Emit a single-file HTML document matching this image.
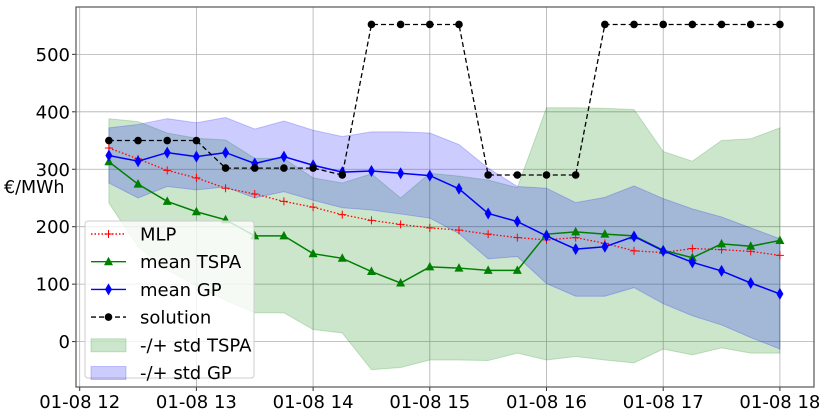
<!DOCTYPE html>
<html><head><meta charset="utf-8"><style>
body{margin:0;background:#fff;}
svg{display:block;font-family:"DejaVu Sans","Liberation Sans",sans-serif;}
</style></head><body>
<svg id="chart" width="830" height="415">
<g id="grid"></g>
<g id="bands"></g>
<g id="lines"></g>
<g id="axes"></g>
<text x="4" y="193" font-size="17.5">€/MWh</text>
<g id="legend"></g>
</svg>
<script>
const xTickLabels = ["01-08 12","01-08 13","01-08 14","01-08 15","01-08 16","01-08 17","01-08 18"];
const yTicks = [0,100,200,300,400,500];
const solution = [350,350,350,350,302,302,302,302,290,552,552,552,552,290,290,290,290,552,552,552,552,552,552,552];
const meanGP = [324,314,329,322,329,310,322,307,295,297,293,289,266,223,209,184,161,165,183,158,138,123,102,83];
const meanTSPA = [313,274,244,226,212,184,184,153,145,122,102,130,128,124,124,187,191,187,184,159,146,170,166,176];
const mlp = [337,318,298,285,267,257,244,234,221,211,204,198,194,187,181,177,181,171,158,155,162,160,157,150];
const tspaLower = [241,165,125,97,72,50,50,21,15,-49,-45,-32,-32,-33,-20,-32,-26,-32,-37,-13,-23,-11,-20,-20];
const tspaUpper = [388,383,363,354,351,319,319,285,276,292,250,293,288,281,268,407,407,406,404,331,314,350,353,372];
const gpUpper = [372,378,388,381,390,370,384,368,357,365,365,363,343,302,270,267,242,251,271,249,231,217,198,179];
const gpLower = [276,250,270,264,269,250,261,246,233,229,222,215,188,144,148,101,79,79,94,66,45,29,7,-13];

const L=76,R=814,T=7,B=387;
const xHour=h=>79.7+(h-12)*116.7;
const xIdx=i=>xHour(12.25+i*0.25);
const y=v=>341.6-v*0.5745;
const NS="http://www.w3.org/2000/svg";
function mk(p,tag,a){const e=document.createElementNS(NS,tag);for(const k in a)e.setAttribute(k,a[k]);p.appendChild(e);return e;}
const grid=document.getElementById('grid'),bands=document.getElementById('bands'),lines=document.getElementById('lines'),axes=document.getElementById('axes'),leg=document.getElementById('legend');

xTickLabels.forEach((t,k)=>{const x=xHour(12+k);
 const g=mk(grid,'line',{x1:x,x2:x,y1:T,y2:B,stroke:'#b0b0b0','stroke-width':0.8});
 
 
 mk(axes,'line',{x1:x,x2:x,y1:B,y2:B+4,stroke:'#333'});
 const tx=mk(axes,'text',{x:x,y:B+21,'font-size':18,'text-anchor':'middle',fill:'#000'});tx.textContent=t;
 
 
});
yTicks.forEach(v=>{const yy=y(v);
 const g=mk(grid,'line',{x1:L,x2:R,y1:yy,y2:yy,stroke:'#b0b0b0','stroke-width':0.8});
 
 
 mk(axes,'line',{x1:L-4,x2:L,y1:yy,y2:yy,stroke:'#333'});
 const tx=mk(axes,'text',{x:L-6,y:yy+6.5,'font-size':18,'text-anchor':'end'});tx.textContent=v;
 
 
});
mk(axes,'rect',{x:L,y:T,width:R-L,height:B-T,fill:'none',stroke:'#555','stroke-width':1.2});

function band(up,lo,fill,name){
 let d='M'+up.map((v,i)=>xIdx(i)+','+y(v)).join('L');
 for(let i=lo.length-1;i>=0;i--)d+='L'+xIdx(i)+','+y(lo[i]);
 const p=mk(bands,'path',{d:d+'Z',fill:fill,'fill-opacity':0.2,stroke:fill,'stroke-opacity':0.2});
 
 
}
band(tspaUpper,tspaLower,'#008000','tspa-std-band');
band(gpUpper,gpLower,'#0000ff','gp-std-band');

function marker(g,kind,x,yy,c){
 if(kind==='+'){mk(g,'path',{d:`M${x-4},${yy}h8M${x},${yy-4}v8`,stroke:c,'stroke-width':1});}
 else if(kind==='^'){mk(g,'path',{d:`M${x},${yy-5}L${x+4.5},${yy+3.5}L${x-4.5},${yy+3.5}Z`,fill:c});}
 else if(kind==='d'){mk(g,'path',{d:`M${x},${yy-6}L${x+3.5},${yy}L${x},${yy+6}L${x-3.5},${yy}Z`,fill:c});}
 else {mk(g,'circle',{cx:x,cy:yy,r:3.8,fill:c});}
}
function series(vals,c,dash,kind,name,w){
 const g=mk(lines,'g',{});
 
 
 mk(g,'polyline',{points:vals.map((v,i)=>xIdx(i)+','+y(v)).join(' '),fill:'none',stroke:c,'stroke-width':w,'stroke-dasharray':dash});
 vals.forEach((v,i)=>marker(g,kind,xIdx(i),y(v),c));
}
series(mlp,'#ff0000','1.5,2','+','mlp-line',1.3);
series(meanTSPA,'#008000','none','^','mean-tspa-line',1.5);
series(meanGP,'#0000ff','none','d','mean-gp-line',1.5);
series(solution,'#000000','5,3','o','solution-line',1.3);

// legend
mk(leg,'rect',{x:85,y:221,width:169,height:157,rx:3,fill:'#fff','fill-opacity':0.8,stroke:'#ccc'});
const items=[['MLP','#ff0000','1.5,2','+'],['mean TSPA','#008000','none','^'],['mean GP','#0000ff','none','d'],['solution','#000','5,3','o'],['-/+ std TSPA','#008000',null],['-/+ std GP','#0000ff',null]];
items.forEach((it,k)=>{const cy=234+k*27.7;
 const g=mk(leg,'g',{});
 
 
 if(it[2]!==null){mk(g,'line',{x1:91,x2:126,y1:cy,y2:cy,stroke:it[1],'stroke-width':1.4,'stroke-dasharray':it[2]});marker(g,it[3],108.5,cy,it[1]);}
 else mk(g,'rect',{x:91,y:cy-6,width:35,height:13,fill:it[1],'fill-opacity':0.2,stroke:it[1],'stroke-opacity':0.2});
 const t=mk(g,'text',{x:140,y:cy+6.5,'font-size':18});t.textContent=it[0];
});
</script>
</body></html>
